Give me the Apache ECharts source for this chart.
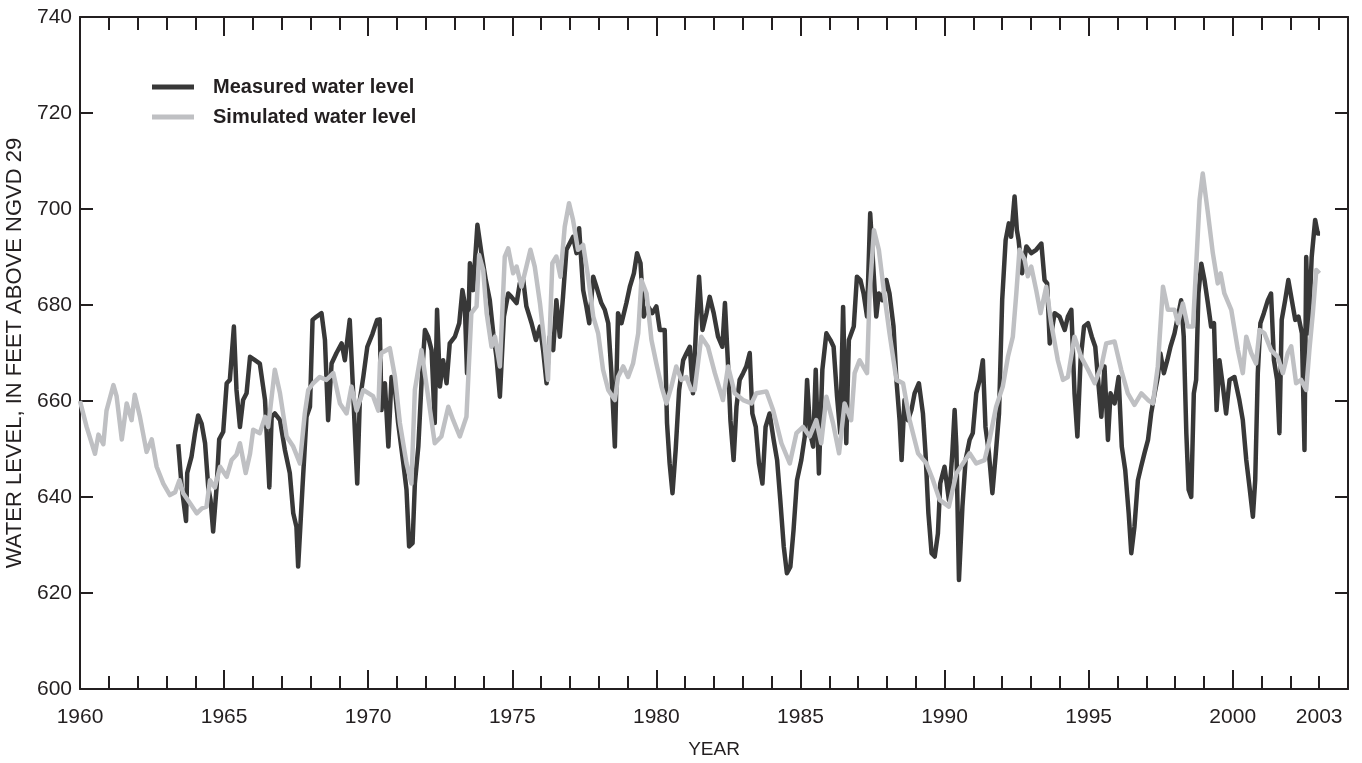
<!DOCTYPE html>
<html><head><meta charset="utf-8">
<script src="https://cdn.jsdelivr.net/npm/echarts@6/dist/echarts.min.js"></script>
<style>html,body{margin:0;padding:0;background:#fff}#c{width:1362px;height:763px}</style>
</head><body><div id="c"></div>
<script>
const measuredYears = [
1963.41,1963.47,1963.53,1963.68,1963.72,1963.87,1963.99,1964.10,1964.22,1964.34,1964.45,1964.53,1964.62,1964.74,1964.83,1964.97,
1965.09,1965.20,1965.34,1965.43,1965.55,1965.66,1965.78,1965.90,1966.07,1966.24,1966.42,1966.57,1966.65,1966.76,1966.94,
1967.11,1967.28,1967.40,1967.51,1967.57,1967.63,1967.72,1967.86,1967.98,1968.07,1968.21,1968.38,1968.50,1968.61,1968.73,1968.90,
1969.08,1969.19,1969.36,1969.48,1969.62,1969.71,1969.83,1969.97,1970.15,1970.23,1970.31,1970.40,
1970.46,1970.58,1970.70,1970.81,1970.93,1971.04,1971.22,1971.33,1971.42,1971.54,1971.62,1971.74,1971.85,1971.97,
1972.08,1972.20,1972.31,1972.39,1972.49,1972.60,1972.72,1972.83,1973.01,1973.16,1973.27,1973.35,1973.43,1973.53,1973.64,1973.79,1973.93,
1974.08,1974.22,1974.34,1974.45,1974.57,1974.71,1974.86,1974.97,1975.15,1975.26,1975.38,1975.49,1975.67,1975.82,1975.96,
1976.07,1976.19,1976.30,1976.42,1976.53,1976.65,1976.76,1976.88,1976.99,1977.11,1977.23,1977.32,1977.46,1977.57,1977.67,1977.81,1977.92,
1978.09,1978.21,1978.33,1978.44,1978.56,1978.67,1978.79,1978.96,1979.08,1979.22,1979.33,1979.45,1979.56,1979.71,1979.86,
1980.00,1980.12,1980.29,1980.37,1980.46,1980.56,1980.67,1980.79,1980.93,1981.04,1981.16,
1981.27,1981.39,1981.48,1981.60,1981.74,1981.85,1981.99,1982.14,1982.29,1982.38,1982.49,1982.57,1982.68,1982.78,1982.89,
1983.01,1983.12,1983.24,1983.33,1983.45,1983.56,1983.68,1983.79,1983.93,1984.07,1984.19,1984.30,1984.42,1984.53,1984.65,1984.76,1984.88,
1985.03,1985.15,1985.23,1985.34,1985.44,1985.53,1985.64,1985.76,1985.90,1986.04,1986.15,1986.27,1986.38,1986.48,1986.59,1986.68,1986.85,1986.96,
1987.08,1987.19,1987.31,1987.42,1987.52,1987.63,1987.72,1987.84,1987.98,1988.09,1988.23,1988.33,1988.44,1988.51,1988.61,1988.73,1988.85,1988.96,
1989.11,1989.25,1989.34,1989.44,1989.55,1989.66,1989.77,1989.85,1990.00,1990.15,1990.27,1990.35,1990.41,1990.50,1990.62,1990.73,1990.87,1990.98,
1991.10,1991.22,1991.33,1991.42,1991.54,1991.66,1991.77,1991.89,1992.00,1992.12,1992.23,1992.31,1992.43,1992.51,
1992.57,1992.69,1992.84,1993.01,1993.18,1993.36,1993.47,1993.56,1993.65,1993.82,1993.99,1994.17,1994.28,1994.40,1994.51,1994.61,1994.72,1994.84,1994.98,
1995.11,1995.23,1995.32,1995.44,1995.55,1995.67,1995.76,1995.90,1996.04,1996.15,1996.27,1996.39,1996.48,1996.59,1996.71,1996.82,1996.94,
1997.06,1997.17,1997.29,1997.40,1997.49,1997.61,1997.73,1997.84,1997.98,1998.12,1998.21,1998.30,1998.39,1998.47,1998.56,1998.65,1998.73,1998.81,1998.91,
1999.02,1999.14,1999.25,1999.35,1999.44,1999.54,1999.66,1999.77,1999.89,2000.06,2000.23,2000.35,2000.47,2000.58,2000.70,2000.78,2000.87,2000.96,
2001.08,2001.22,2001.33,2001.43,2001.54,2001.62,2001.70,2001.82,2001.93,2002.05,2002.17,2002.28,2002.40,2002.49,2002.55,2002.63,2002.74,2002.86,2002.95,2003.03
];
const measuredLevels = [
651,651.2,642,635,645,648.4,653.3,657,655.3,651.2,642,639.4,632.8,642,652,653.6,
663.7,664.4,675.5,662.3,654.6,660.2,661.6,669.2,668.5,667.8,660.2,642,656.7,657.4,656,
649.8,645,636.6,633.8,625.5,625.5,642,656.7,658.8,676.9,677.6,678.3,672.7,656,667.8,670,
672,668.5,676.9,661.6,642.8,660.2,665,671.3,674,675.5,676.9,677,
658.1,663.7,650.5,665,662.3,655.4,647,641.5,629.7,630.4,642.8,650.5,663.7,674.8,
673.4,670.6,655.4,679,663,668.5,663.7,672,673.4,676.2,683.1,680.4,665.8,688.7,683.1,696.7,690.8,
685.2,681,674.1,669.2,660.9,677.6,682.4,681.7,680.4,684.5,685.2,679.7,676.2,672.7,675.5,
670.6,663.7,673.4,670.6,681,673.4,681.7,691.5,692.8,694.2,690.8,696,683.1,679.7,676.2,685.9,683.8,
680.4,679,676.2,665.8,650.5,678.3,676.2,680.4,683.8,686.6,690.8,688.7,677.6,679.7,678.3,
679.7,674.8,674.8,655.4,647,640.8,649.8,662.3,668.5,669.9,671.3,
661.6,676.9,685.9,674.8,678.3,681.7,678.3,673.4,671.3,680.4,667.2,656,647.7,658.8,664.4,
665.8,667.2,670,657.4,654.6,647,642.8,654.6,657.4,651.9,647.7,639.4,629.7,624.1,625.5,633.1,643.5,
647.7,652.6,664.4,653.3,650.5,666.5,644.9,666.5,674.1,672.7,671.3,660.9,653.3,679.6,651.2,672.7,675.5,685.9,
685.2,682.4,677.6,699.1,688.7,677.6,682.4,681,685.2,682.4,675.5,664.4,656,647.7,660.2,656,658.1,661.6,
663.7,657.4,649.1,636.6,628.3,627.6,632.4,642.8,646.3,639.4,649.1,658.1,650.5,622.7,638,647.7,651.9,653.3,
661.6,664.4,668.5,654.6,649.1,640.8,648.4,657.4,681,693.5,697,694.2,702.6,695.6,
693.5,686.6,692.2,690.8,691.5,692.8,685.2,684.5,672,678.3,677.6,674.8,677.6,679,661.6,652.6,668.5,675.5,676.2,
673.4,671.3,665,656.7,667.2,651.9,661.6,659.5,665,650.5,645.6,636.6,628.3,633.8,643.5,646.3,649.2,
651.9,657.4,661.6,665,669.9,665.8,668.5,671.3,674.1,678.3,681,673.4,653.3,641.5,640,661.6,664.4,682.4,688.6,
685.2,680.3,675.5,676.2,658.1,668.5,663,657.4,664.4,665,660.2,656,647.7,642.2,635.9,643.5,665.8,676.2,
678.3,681,682.4,668.5,664.4,653.3,676.9,681,685.2,681,676.9,677.6,674.1,649.8,690,674.1,690,697.7,694.9,694.9
];
const simulatedYears = [
1960.00,1960.23,1960.52,1960.64,1960.81,1960.92,1961.16,1961.27,1961.45,1961.62,1961.79,1961.90,
1962.08,1962.31,1962.49,1962.66,1962.89,1963.12,1963.30,1963.45,1963.58,1963.82,1964.05,1964.22,1964.39,1964.51,1964.68,1964.86,
1965.09,1965.26,1965.43,1965.55,1965.75,1965.90,1966.01,1966.24,1966.42,1966.53,1966.76,1966.94,
1967.17,1967.40,1967.63,1967.80,1967.92,1968.09,1968.32,1968.55,1968.79,1969.02,1969.25,1969.42,1969.60,1969.83,1970.17,1970.35,
1970.41,1970.46,1970.75,1970.93,1971.10,1971.33,1971.50,1971.62,1971.85,1972.08,1972.31,1972.54,1972.78,1972.95,
1973.18,1973.41,1973.58,1973.76,1973.85,1973.99,1974.11,1974.28,1974.40,1974.57,1974.74,1974.86,
1975.03,1975.15,1975.32,1975.49,1975.63,1975.78,1975.96,1976.13,1976.24,1976.39,1976.53,1976.67,1976.82,1976.97,
1977.11,1977.28,1977.46,1977.63,1977.81,1977.98,1978.15,1978.33,1978.56,1978.67,1978.85,1979.02,1979.19,1979.37,1979.48,1979.66,1979.83,
1980.00,1980.18,1980.35,1980.52,1980.69,1980.87,1981.04,1981.21,1981.33,1981.56,1981.79,
1982.03,1982.31,1982.49,1982.72,1983.01,1983.30,1983.47,1983.82,1984.05,1984.34,1984.63,1984.86,
1985.09,1985.32,1985.55,1985.72,1985.90,1986.13,1986.34,1986.53,1986.76,1986.88,1987.05,1987.31,1987.40,1987.55,1987.72,1987.92,
1988.09,1988.33,1988.56,1988.79,1989.08,1989.37,1989.60,1989.83,1990.15,1990.41,1990.64,1990.87,1991.10,1991.39,1991.56,1991.79,1992.02,
1992.20,1992.37,1992.49,1992.60,1992.78,1992.89,1993.01,1993.18,1993.33,1993.53,1993.70,1993.93,1994.11,1994.28,1994.51,1994.74,1994.98,
1995.21,1995.44,1995.61,1995.90,1996.13,1996.36,1996.59,1996.83,1997.06,1997.23,1997.40,1997.58,1997.75,1997.98,
1998.10,1998.27,1998.44,1998.62,1998.73,1998.85,1998.96,1999.14,1999.31,1999.48,1999.58,1999.71,1999.95,
2000.18,2000.35,2000.47,2000.64,2000.81,2000.93,2001.10,2001.33,2001.56,2001.74,2001.91,2002.03,2002.20,2002.37,2002.55,2002.66,2002.78,2002.90,2003.01
];
const simulatedLevels = [
660,654.6,649,653,651,658,663.3,661,652,659.5,656,661.3,
656.7,649.4,652,646.3,642.8,640.4,641,643.5,640.8,638.7,636.6,637.6,638,643.5,642,646.3,
644.2,647.7,648.8,651.2,645,649,654,653.3,656.7,654.6,666.5,661.6,
652.6,650.5,647,657.4,662.3,663.7,665,664.4,665.8,659.5,657.4,663,658,662.3,661,658,
668,670,671,665,655.4,647,642.8,662.3,670.6,660.9,651.2,652.6,658.8,656,
652.6,656.7,678.3,679.7,690.4,687.3,678.3,671.3,673.4,667.2,690.1,691.8,
686.6,688,683.8,688,691.5,688,680.4,671.3,664.4,688.7,690.1,685.9,696.3,701.2,
697.7,691.5,692.5,685.9,677.6,674.1,666.5,662.3,660.2,665,667.2,665,667.8,674.1,685.2,682.4,672.7,
667.8,663,659.5,663,667.2,664.4,665,662.3,662.3,673.4,671.3,
665.8,660.2,667.2,661.6,660.2,659.5,661.6,662,658.1,651.2,647,653.3,
654.6,652.6,656,651.2,660.9,655.4,649.1,659.5,656,665.8,668.5,665.8,682.4,695.6,691.5,681.7,
674.1,664.4,663.7,656,649.1,647,643.5,639.4,638,644.9,647,649.1,647,647.7,651.9,658.8,663,
669.2,673.4,682.4,691.5,689.4,686,688,683.1,678.3,683.8,676.2,668.5,664.4,665,673.4,669.2,666.5,
663.7,667.2,672,672.4,666.5,661.6,659.2,661.6,660.2,659.5,667.2,683.8,679,679,
676.2,680.3,675.5,675.5,688,701.9,707.4,699.1,690.8,684.5,686.6,682.4,679,
670.6,665.8,673.4,670,667.8,674.8,674.1,670.6,669.2,665.8,670,671.4,663.7,664.4,662.3,670.6,678.3,687.3,686.6
];
const yearTickLabels = [1960,1965,1970,1975,1980,1985,1990,1995,2000,2003];
const seriesNames = ['Measured water level','Simulated water level'];
const xTitle = 'YEAR';
const yTitle = 'WATER LEVEL, IN FEET ABOVE NGVD 29';

const INK = '#231f20';
const FONT = "'Liberation Sans', Arial, Helvetica, sans-serif";
const gridRect = {left:80, right:14, top:17, bottom:74, containLabel:false, outerBoundsMode:'none'};
function xAx(gridIndex, position, interval, tickLen, opts) {
  return Object.assign({
    type:'value', gridIndex, position, min:1960, max:2004, interval,
    axisLine:{show:true, onZero:false, lineStyle:{color:INK, width:2}},
    axisTick:{show:true, inside:true, length:tickLen, lineStyle:{color:INK, width:2}},
    axisLabel:{show:false},
    splitLine:{show:false}
  }, opts||{});
}
function yAx(gridIndex, position, opts) {
  return Object.assign({
    type:'value', gridIndex, position, min:600, max:740, interval:20,
    axisLine:{show:true, onZero:false, lineStyle:{color:INK, width:2}},
    axisTick:{show:true, inside:true, length:13, lineStyle:{color:INK, width:2}},
    axisLabel:{show:false},
    splitLine:{show:false}
  }, opts||{});
}
const chart = echarts.init(document.getElementById('c'), null, {renderer:'canvas'});
chart.setOption({
  animation:false,
  backgroundColor:'#ffffff',
  textStyle:{fontFamily:FONT},
  grid:[Object.assign({}, gridRect), Object.assign({}, gridRect)],
  legend:{
    orient:'vertical', left:152, top:77, padding:0,
    icon:'rect', itemWidth:42, itemHeight:5, itemGap:10,
    data:seriesNames,
    textStyle:{fontFamily:FONT, fontSize:20, lineHeight:20, fontWeight:'bold', color:INK, padding:[0,0,0,14]}
  },
  xAxis:[
    xAx(0,'bottom',1,13,{
      axisLabel:{show:true, margin:18, fontSize:21, color:INK, fontFamily:FONT,
        formatter:v => yearTickLabels.indexOf(Math.round(v))>=0 ? String(Math.round(v)) : ''},
      name:xTitle, nameLocation:'middle', nameGap:51,
      nameTextStyle:{fontSize:19, color:INK, fontFamily:FONT}
    }),
    xAx(0,'top',1,13),
    xAx(1,'bottom',5,19,{axisLine:{show:false}}),
    xAx(1,'top',5,19,{axisLine:{show:false}})
  ],
  yAxis:[
    yAx(0,'left',{
      axisLabel:{show:true, margin:8, fontSize:21, color:INK, fontFamily:FONT},
      name:yTitle, nameLocation:'middle', nameGap:53,
      nameTextStyle:{fontSize:22, color:INK, fontFamily:FONT}
    }),
    yAx(0,'right'),
    yAx(1,'left',{axisLine:{show:false}, axisTick:{show:false}})
  ],
  series:[
    {name:seriesNames[0], type:'line', xAxisIndex:0, yAxisIndex:0, symbol:'none',
     lineStyle:{color:'#383838', width:4.5, join:'round'}, itemStyle:{color:'#383838'},
     data:measuredYears.map((x,i)=>[x, measuredLevels[i]])},
    {name:seriesNames[1], type:'line', xAxisIndex:0, yAxisIndex:0, symbol:'none',
     lineStyle:{color:'#bfc0c3', width:4.5, join:'round'}, itemStyle:{color:'#bfc0c3'},
     data:simulatedYears.map((x,i)=>[x, simulatedLevels[i]])}
  ]
});
</script>
</body></html>
